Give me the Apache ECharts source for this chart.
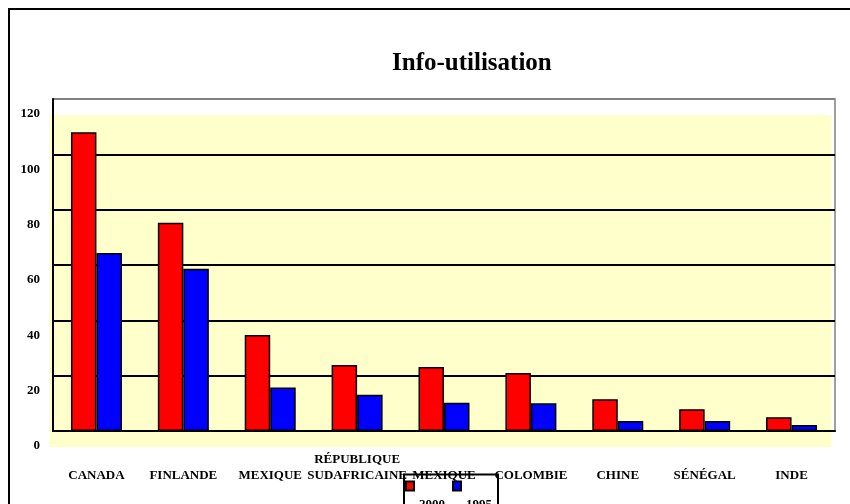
<!DOCTYPE html>
<html>
<head>
<meta charset="utf-8">
<script src="https://cdn.jsdelivr.net/npm/echarts@6/dist/echarts.min.js"></script>
<style>
  html, body { margin: 0; padding: 0; background: #fff; }
  #chart { width: 850px; height: 504px; }
</style>
</head>
<body>
<div id="chart"></div>
<script>
var pays = ['CANADA', 'FINLANDE', 'MEXIQUE', 'RÉPUBLIQUE\nSUDAFRICAINE', 'MEXIQUE', 'COLOMBIE', 'CHINE', 'SÉNÉGAL', 'INDE'];
var valeurs2000 = [108, 75.3, 34.7, 23.9, 23.1, 21, 11.5, 7.9, 5];
var valeurs1995 = [64.3, 58.6, 15.7, 13.1, 10.2, 10, 3.6, 3.6, 2.2];
var graduations = [0, 20, 40, 60, 80, 100, 120];

var police = "'Liberation Serif', 'Times New Roman', serif";

var chart = echarts.init(document.getElementById('chart'));
var option = {
    animation: false,
    textStyle: { fontFamily: police },
    title: {
        text: 'Info-utilisation',
        left: 387,
        top: 46,
        textStyle: { fontFamily: police, fontSize: 25, fontWeight: 'bold', color: '#000' }
    },
    graphic: [
        {
            type: 'rect',
            z: -10,
            shape: { x: 49.5, y: 115, width: 782, height: 332 },
            style: { fill: '#FFFFCC' }
        },
        {
            type: 'rect',
            shape: { x: 9, y: 9, width: 900, height: 600 },
            style: { fill: 'none', stroke: '#000', lineWidth: 2 }
        },
        {
            type: 'rect',
            shape: { x: 404, y: 474.5, width: 94, height: 60 },
            style: { fill: 'none', stroke: '#000', lineWidth: 2 }
        }
    ],
    legend: {
        left: 405,
        top: 461,
        padding: 0,
        itemWidth: 8,
        itemHeight: 9,
        itemGap: 7,
        icon: 'rect',
        formatter: '{bas|{name}}',
        textStyle: {
            rich: {
                bas: { fontFamily: police, fontSize: 13, fontWeight: 'bold', color: '#000', lineHeight: 14, padding: [37, 0, 0, 0] }
            }
        },
        data: ['2000', '1995']
    },
    grid: {
        left: 53,
        top: 99,
        right: 15,
        bottom: 73,
        show: true,
        backgroundColor: 'transparent',
        borderColor: '#808080',
        borderWidth: 1.5
    },
    xAxis: {
        type: 'category',
        data: pays,
        axisLine: { lineStyle: { color: '#000', width: 2 } },
        axisTick: { show: false },
        axisLabel: {
            interval: 0,
            margin: 53,
            verticalAlign: 'bottom',
            lineHeight: 16,
            fontFamily: police,
            fontSize: 13,
            fontWeight: 'bold',
            color: '#000'
        }
    },
    yAxis: {
        type: 'value',
        min: graduations[0],
        max: graduations[graduations.length - 1],
        interval: 20,
        axisLine: { show: true, lineStyle: { color: '#000', width: 2 } },
        axisTick: { show: false },
        axisLabel: {
            margin: 13,
            formatter: '{bas|{value}}',
            rich: {
                bas: { fontFamily: police, fontSize: 13, fontWeight: 'bold', color: '#000', lineHeight: 14, padding: [30, 0, 0, 0] }
            }
        },
        splitLine: {
            lineStyle: {
                color: ['#000', '#000', '#000', '#000', '#000', '#000', '#808080'],
                width: 2
            }
        }
    },
    series: [
        {
            name: '2000',
            type: 'bar',
            data: valeurs2000,
            barWidth: 25.5,
            barGap: '0%',
            itemStyle: { color: '#FF0000', borderColor: '#000', borderWidth: 1.5 }
        },
        {
            name: '1995',
            type: 'bar',
            data: valeurs1995,
            barWidth: 25.5,
            itemStyle: { color: '#0000FF', borderColor: '#000', borderWidth: 1.5 }
        }
    ]
};
chart.setOption(option);
</script>
</body>
</html>
